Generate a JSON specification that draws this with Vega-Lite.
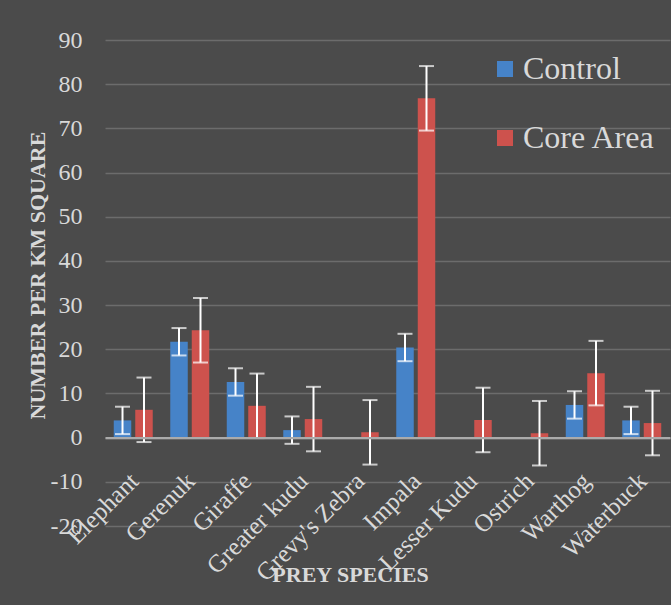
{
  "$schema": "https://vega.github.io/schema/vega-lite/v6.json",
  "width": 565,
  "height": 486,
  "autosize": "none",
  "padding": {"left": 105, "top": 40, "right": 1, "bottom": 79},
  "background": "#4b4b4b",
  "config": {
    "view": {"stroke": null},
    "font": "Liberation Serif"
  },
  "data": {
    "values": [
      {"species": "Elephant", "group": "Control", "value": 3.9, "lo": 0.8, "hi": 7.0},
      {"species": "Elephant", "group": "Core Area", "value": 6.3, "lo": -1.0, "hi": 13.6},
      {"species": "Gerenuk", "group": "Control", "value": 21.7, "lo": 18.6, "hi": 24.8},
      {"species": "Gerenuk", "group": "Core Area", "value": 24.3, "lo": 17.0, "hi": 31.6},
      {"species": "Giraffe", "group": "Control", "value": 12.6, "lo": 9.5, "hi": 15.7},
      {"species": "Giraffe", "group": "Core Area", "value": 7.2, "lo": -0.1, "hi": 14.5},
      {"species": "Greater kudu", "group": "Control", "value": 1.7, "lo": -1.4, "hi": 4.8},
      {"species": "Greater kudu", "group": "Core Area", "value": 4.2, "lo": -3.1, "hi": 11.5},
      {"species": "Grevy's Zebra", "group": "Core Area", "value": 1.2, "lo": -6.1, "hi": 8.5},
      {"species": "Impala", "group": "Control", "value": 20.4, "lo": 17.3, "hi": 23.5},
      {"species": "Impala", "group": "Core Area", "value": 76.8, "lo": 69.5, "hi": 84.1},
      {"species": "Lesser Kudu", "group": "Core Area", "value": 4.0, "lo": -3.3, "hi": 11.3},
      {"species": "Ostrich", "group": "Core Area", "value": 1.0, "lo": -6.3, "hi": 8.3},
      {"species": "Warthog", "group": "Control", "value": 7.4, "lo": 4.3, "hi": 10.5},
      {"species": "Warthog", "group": "Core Area", "value": 14.6, "lo": 7.3, "hi": 21.9},
      {"species": "Waterbuck", "group": "Control", "value": 3.9, "lo": 0.8, "hi": 7.0},
      {"species": "Waterbuck", "group": "Core Area", "value": 3.3, "lo": -4.0, "hi": 10.6}
    ]
  },
  "encoding": {
    "x": {
      "field": "species",
      "type": "nominal",
      "sort": ["Elephant", "Gerenuk", "Giraffe", "Greater kudu", "Grevy's Zebra", "Impala", "Lesser Kudu", "Ostrich", "Warthog", "Waterbuck"],
      "scale": {"paddingInner": 0.31, "paddingOuter": 0.155},
      "axis": {
        "title": "PREY SPECIES",
        "titleFont": "Liberation Serif",
        "titleFontWeight": "bold",
        "titleFontSize": 22,
        "titleColor": "#d9d9d9",
        "titleX": 245,
        "titleY": 144,
        "titleAlign": "center",
        "titleBaseline": "alphabetic",
        "offset": -88.4,
        "zindex": 1,
        "domainColor": "#ababab",
        "domainWidth": 2.2,
        "ticks": false,
        "tickSize": 0,
        "labelAngle": -45,
        "labelAlign": "right",
        "labelBaseline": "middle",
        "labelFont": "Liberation Serif",
        "labelFontSize": 25,
        "labelColor": "#d9d9d9",
        "labelPadding": 39,
        "labelOffset": 1,
        "labelOverlap": false,
        "labelLimit": 0
      }
    },
    "xOffset": {"field": "group", "type": "nominal", "sort": ["Control", "Core Area"], "scale": {"paddingInner": 0.186, "paddingOuter": 0}}
  },
  "layer": [
    {
      "mark": {"type": "bar"},
      "encoding": {
        "y": {
          "field": "value",
          "type": "quantitative",
          "scale": {"domain": [-20, 90], "nice": false, "zero": false},
          "axis": {
            "title": "NUMBER PER KM SQUARE",
            "titleFont": "Liberation Serif",
            "titleFontWeight": "bold",
            "titleFontSize": 22,
            "titleColor": "#d9d9d9",
            "titleAngle": -90,
            "titleX": -61,
            "titleY": 235,
            "titleAlign": "center",
            "titleBaseline": "alphabetic",
            "values": [-20, -10, 0, 10, 20, 30, 40, 50, 60, 70, 80, 90],
            "labelExpr": "replace(datum.label, '\u2212', '-')",
            "domain": false,
            "ticks": false,
            "tickSize": 0,
            "grid": true,
            "gridColor": "#6c6c6c",
            "gridWidth": 1.3,
            "labelFont": "Liberation Serif",
            "labelFontSize": 24,
            "labelColor": "#d9d9d9",
            "labelPadding": 23
          }
        },
        "y2": {"datum": 0},
        "color": {
          "field": "group",
          "type": "nominal",
          "scale": {"domain": ["Control", "Core Area"], "range": ["#4683c8", "#cd524d"]},
          "legend": {
            "title": null,
            "orient": "none",
            "legendX": 384,
            "legendY": 13,
            "padding": 0,
            "symbolType": "square",
            "symbolSize": 256,
            "symbolStrokeWidth": 0,
            "labelFont": "Liberation Serif",
            "labelFontSize": 32,
            "labelColor": "#d9d9d9",
            "labelOffset": 2,
            "rowPadding": 37
          }
        }
      }
    },
    {
      "mark": {"type": "rule", "color": "white", "strokeWidth": 2},
      "encoding": {
        "y": {"field": "lo", "type": "quantitative"},
        "y2": {"field": "hi"}
      }
    },
    {
      "mark": {"type": "tick", "color": "white", "thickness": 2, "size": 15, "orient": "horizontal"},
      "encoding": {"y": {"field": "hi", "type": "quantitative"}}
    },
    {
      "mark": {"type": "tick", "color": "white", "thickness": 2, "size": 15, "orient": "horizontal"},
      "encoding": {"y": {"field": "lo", "type": "quantitative"}}
    }
  ]
}
